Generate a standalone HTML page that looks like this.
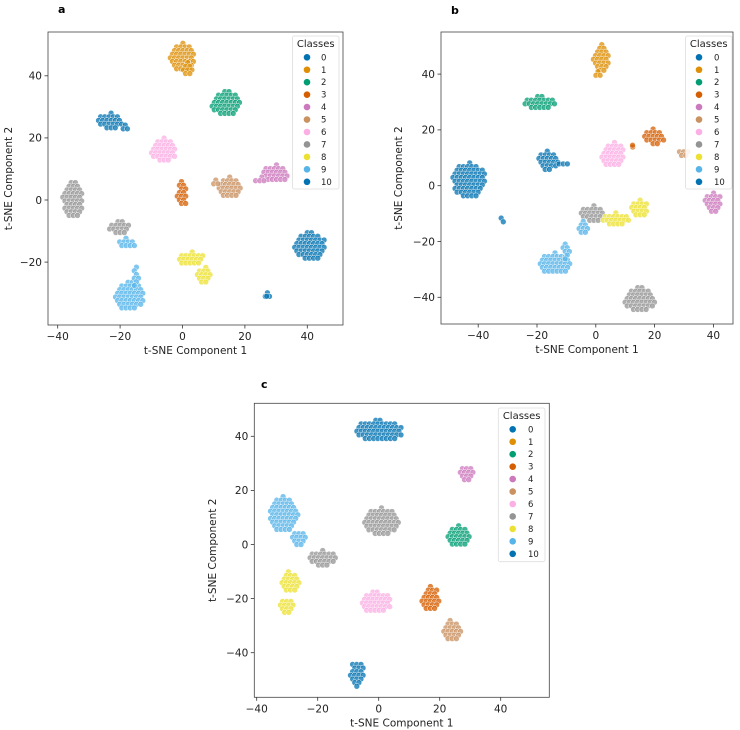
<!DOCTYPE html>
<html><head><meta charset="utf-8"><style>
body{margin:0;background:#fff}
svg{display:block;font-family:"DejaVu Sans","Liberation Sans",sans-serif}
</style></head><body>
<svg id="fig" width="740" height="730" viewBox="0 0 740 730" xmlns="http://www.w3.org/2000/svg"></svg>
<script>
const palette=["#0173b2","#de8f05","#029e73","#d55e00","#cc78bc","#ca9161","#fbafe4","#949494","#ece133","#56b4e9","#0173b2"];
const legendLabels=["0","1","2","3","4","5","6","7","8","9","10"];
const xTicks=[-40,-20,0,20,40];
const yTicksA=[-20,0,20,40];
const yTicksB=[-40,-20,0,20,40];
const yTicksC=[-40,-20,0,20,40];
// cluster blobs: class, centre x, centre y, radius x, radius y (data units)
const aClass=[1,1,2,0,0,6,4,4,3,5,5,7,7,9,10,8,8,9,9,0];
const aX=[0,2,14,-23,-18,-6,30,25,0,15,11,-35,-20,-18,41,3,7,-17,-15,27];
const aY=[46,42,31,25.5,23,16,8.5,6.5,2,4,5.5,0,-9,-14,-15,-19,-24.5,-31,-25,-31];
const aRx=[3.5,1.5,4,3.5,1.5,3.5,3.5,2,1.5,3.5,1.5,3,3,2.5,4.5,3.5,2,4,1,1];
const aRy=[4,2,3.5,2.2,1,3.5,2.5,0.8,3.5,3,0.8,5,1.8,1.5,4,2,2.5,4,3,1];
const bClass=[1,1,2,3,5,3,6,0,0,0,4,10,7,9,8,8,9,9,7];
const bX=[2,1,-19,20,30,12.5,6,-16,-11,-43,40,-32,-1,-4,7,15,-14,-10,15];
const bY=[45.5,40,29.5,17.5,12,14.5,11,9,8,2,-6,-12,-10,-15,-12,-8,-28,-23,-41];
const bRx=[2.5,1.5,4.5,3,2,0.6,3.5,3,2,5,2.5,0.8,3.5,1.5,4,2.5,5,1,4.5];
const bRy=[4.5,0.8,2.2,2.5,1.3,0.6,4,3,1,5.5,3,1.5,2.5,2,2,2.5,3.5,3,4];
const cClass=[0,4,9,9,7,2,2,7,8,8,6,3,5,0];
const cX=[0,29,-31,-26,1,26,31,-18,-29,-30,-1,17,24,-7];
const cY=[42,26,11,2,8.5,3,1,-5,-14,-22.5,-21.5,-20,-32,-48];
const cRx=[7,2,4,2,5,3.5,2,4,3,2,4.5,2.5,3,2];
const cRy=[3.5,3,6,3,4.5,3.5,0.5,2.5,3.5,2.5,3.5,4,3.5,4.5];

const NS="http://www.w3.org/2000/svg";
const svg=document.getElementById('fig');
function mk(tag,attrs,parent){const e=document.createElementNS(NS,tag);for(const k in attrs)e.setAttribute(k,attrs[k]);(parent||svg).appendChild(e);return e;}

function panel(p){
  const g=mk('g',{});
  
  
  const sx=v=>p.x0+v*p.kx, sy=v=>p.y0-v*p.ky;
  const lab=mk('text',{x:p.labX,y:p.labY,'font-size':11,'font-weight':'bold'},g);lab.textContent=p.id;
  
  
  const frame=mk('rect',{x:p.L,y:p.T,width:p.R-p.L,height:p.B-p.T,fill:'#fff',stroke:'#444','stroke-width':0.8},g);
  
  
  const pts=mk('g',{},g);
  
  
  for(let i=0;i<p.cls.length;i++){
    const cx=sx(p.xs[i]),cy=sy(p.ys[i]),rx=p.rxs[i]*p.kx*1.12,ry=p.rys[i]*p.ky*1.12;
    const step=4.2;let row=0;
    for(let y=cy-ry;y<=cy+ry+0.01;y+=step*0.87,row++){
      for(let x=cx-rx+(row%2?step/2:0);x<=cx+rx+0.01;x+=step){
        const dx=(x-cx)/Math.max(rx,1),dy=(y-cy)/Math.max(ry,1);
        if(dx*dx+dy*dy>1.05)continue;
        const c=mk('circle',{cx:x.toFixed(1),cy:y.toFixed(1),r:2.9,fill:palette[p.cls[i]],'fill-opacity':0.75,stroke:'#fff','stroke-width':0.5},pts);
        
        
      }
    }
    if(rx<4&&ry<4){const c=mk('circle',{cx:cx,cy:cy,r:2.9,fill:palette[p.cls[i]],'fill-opacity':0.75,stroke:'#fff','stroke-width':0.5},pts);
      
      }
  }
  xTicks.forEach(v=>{const X=sx(v);
    mk('line',{x1:X,x2:X,y1:p.B,y2:p.B+3.5,stroke:'#333','stroke-width':0.8},g);
    const t=mk('text',{x:X,y:p.B+15,'font-size':10.5,'text-anchor':'middle',fill:'#222'},g);t.textContent=v<0?'\u2212'+(-v):v;
    
    });
  p.yt.forEach(v=>{const Y=sy(v);
    mk('line',{x1:p.L-3.5,x2:p.L,y1:Y,y2:Y,stroke:'#333','stroke-width':0.8},g);
    const t=mk('text',{x:p.L-6,y:Y+3.8,'font-size':10.5,'text-anchor':'end',fill:'#222'},g);t.textContent=v<0?'\u2212'+(-v):v;
    
    });
  const xl=mk('text',{x:(p.L+p.R)/2,y:p.B+29,'font-size':10.5,'text-anchor':'middle',fill:'#222'},g);xl.textContent='t-SNE Component 1';
  
  
  const yl=mk('text',{x:0,y:0,'font-size':10.5,'text-anchor':'middle',fill:'#222',transform:`translate(${p.ylX},${(p.T+p.B)/2}) rotate(-90)`},g);yl.textContent='t-SNE Component 2';
  
  
  const lg=mk('g',{},g);
  
  
  mk('rect',{x:p.lgL,y:p.lgT,width:p.lgW,height:p.lgH,rx:2,fill:'#fff','fill-opacity':0.85,stroke:'#ddd','stroke-width':0.8},lg);
  const tt=mk('text',{x:p.lgL+p.lgW/2,y:p.lgT+11,'font-size':10,'text-anchor':'middle',fill:'#222'},lg);tt.textContent='Classes';
  
  
  legendLabels.forEach((s,i)=>{const Y=p.lg0+i*12.45;
    const e=mk('g',{},lg);
    
    
    mk('circle',{cx:p.lgM,cy:Y,r:3.3,fill:palette[i]},e);
    const t=mk('text',{x:p.lgTx,y:Y+3,'font-size':8.5,fill:'#222'},e);t.textContent=s;});
}
panel({id:'a',L:48,R:343,T:32,B:325,x0:182.5,kx:3.12,y0:200,ky:3.105,yt:yTicksA,labX:58,labY:13,ylX:12,
  cls:aClass,xs:aX,ys:aY,rxs:aRx,rys:aRy,lgL:292.5,lgT:36,lgW:46.5,lgH:153,lg0:57.3,lgM:307,lgTx:321});
panel({id:'b',L:441,R:733,T:32,B:324,x0:595.8,kx:2.94,y0:185.7,ky:2.79,yt:yTicksB,labX:451,labY:14,ylX:402,
  cls:bClass,xs:bX,ys:bY,rxs:bRx,rys:bRy,lgL:685.5,lgT:36,lgW:46.5,lgH:153,lg0:57.3,lgM:699,lgTx:714});
panel({id:'c',L:254.3,R:549.3,T:403.3,B:697.3,x0:378.7,kx:3.05,y0:544.5,ky:2.705,yt:yTicksC,labX:261,labY:388,ylX:216,
  cls:cClass,xs:cX,ys:cY,rxs:cRx,rys:cRy,lgL:498.3,lgT:408,lgW:46.7,lgH:153.7,lg0:429.3,lgM:512.7,lgTx:528});
</script>
</body></html>
